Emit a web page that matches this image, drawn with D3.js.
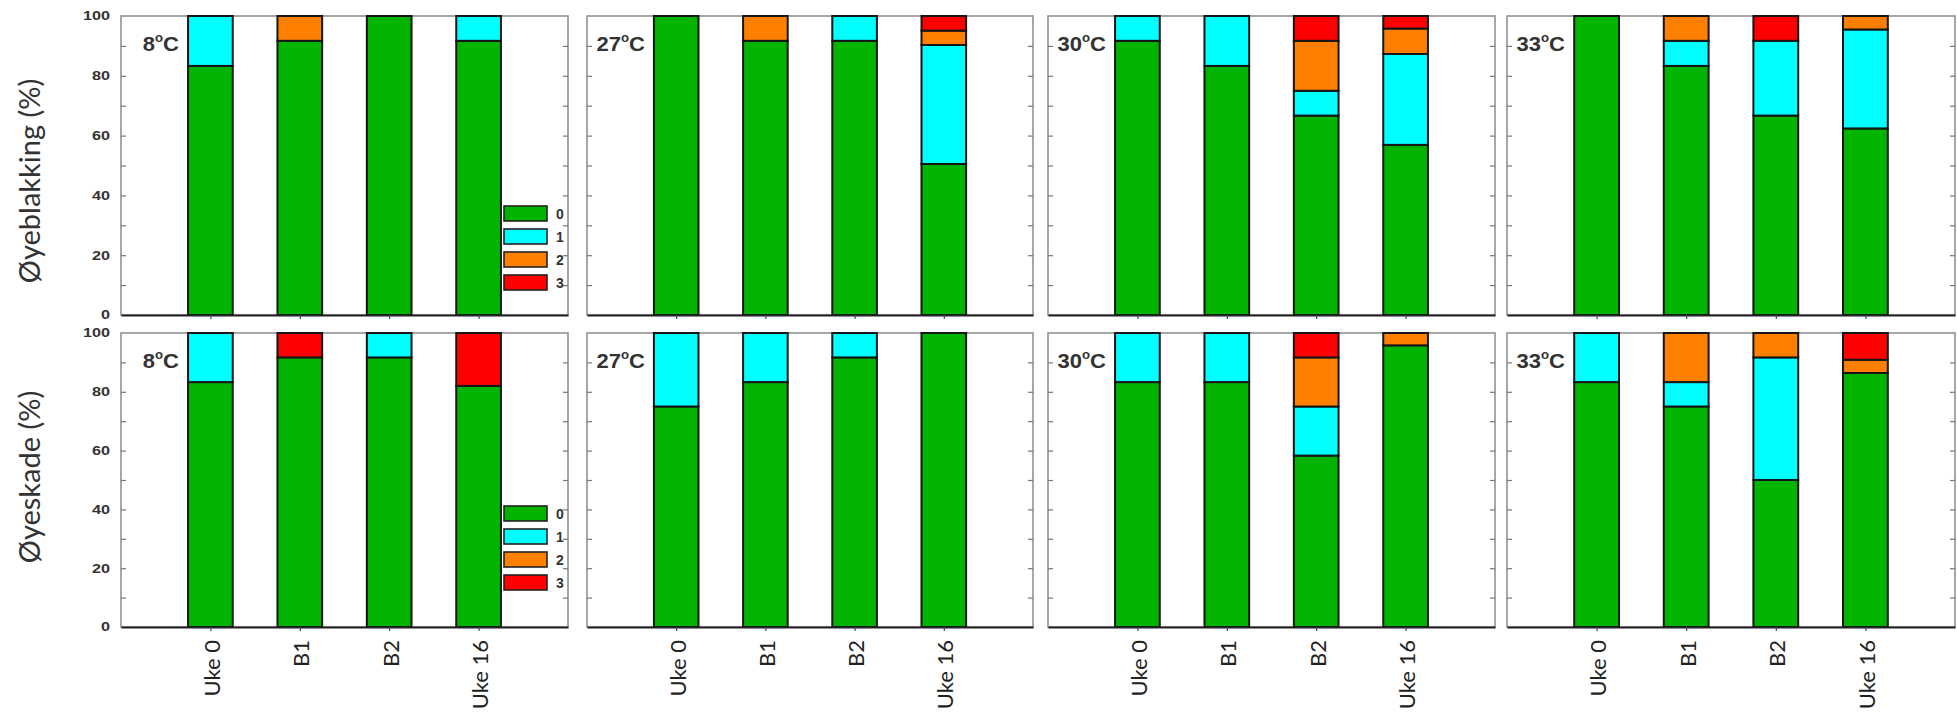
<!DOCTYPE html>
<html>
<head>
<meta charset="utf-8">
<script src="https://cdn.jsdelivr.net/npm/d3@7"></script>
<style>
  html, body { margin: 0; padding: 0; background: #fff; }
  svg { display: block; }
</style>
</head>
<body>
<svg id="chart" width="1957" height="714"></svg>
<script>
// ---------- DATA ----------
const temperatures = ["8", "27", "30", "33"];
const timepoints = ["Uke 0", "B1", "B2", "Uke 16"];
const scores = ["0", "1", "2", "3"];
const yTickValues = [0, 20, 40, 60, 80, 100];
const rowTitles = ["Øyeblakking (%)", "Øyeskade (%)"];

// Øyeblakking: per timepoint [score0, score1, score2, score3] (%)
const blakk8  = [[83.3, 16.7, 0, 0], [91.7, 0, 8.3, 0], [100, 0, 0, 0], [91.7, 8.3, 0, 0]];
const blakk27 = [[100, 0, 0, 0], [91.7, 0, 8.3, 0], [91.7, 8.3, 0, 0], [50.5, 39.8, 4.8, 4.9]];
const blakk30 = [[91.7, 8.3, 0, 0], [83.3, 16.7, 0, 0], [66.7, 8.3, 16.7, 8.3], [56.9, 30.4, 8.5, 4.2]];
const blakk33 = [[100, 0, 0, 0], [83.3, 8.4, 8.3, 0], [66.7, 25, 0, 8.3], [62.4, 33.1, 4.5, 0]];

// Øyeskade: per timepoint [score0, score1, score2, score3] (%)
const skade8  = [[83.3, 16.7, 0, 0], [91.7, 0, 0, 8.3], [91.7, 8.3, 0, 0], [82, 0, 0, 18]];
const skade27 = [[75, 25, 0, 0], [83.3, 16.7, 0, 0], [91.7, 8.3, 0, 0], [100, 0, 0, 0]];
const skade30 = [[83.3, 16.7, 0, 0], [83.3, 16.7, 0, 0], [58.3, 16.7, 16.7, 8.3], [95.8, 0, 4.2, 0]];
const skade33 = [[83.3, 16.7, 0, 0], [75, 8.3, 16.7, 0], [50, 41.7, 8.3, 0], [86.4, 0, 4.5, 9.1]];

const rowData = [
  [blakk8, blakk27, blakk30, blakk33],
  [skade8, skade27, skade30, skade33]
];

// ---------- LAYOUT / STYLE ----------
const colors = d3.scaleOrdinal().domain(scores).range(["#00b400", "#00ffff", "#ff8000", "#ff0000"]);
const rowsY = [[16, 315], [333, 627]];
const panelsX = [[121, 568], [587, 1033], [1048, 1495], [1507, 1955]];
const legendTop = [206, 506];

const svg = d3.select("#chart");

rowsY.forEach(([top, bottom], r) => {
  const y = d3.scaleLinear().domain([0, 100]).range([bottom, top]);

  panelsX.forEach(([left, right], p) => {
    const x = d3.scaleLinear().domain([0, 5]).range([left, right]);
    const g = svg.append("g");
    const bw = x(0.5) - x(0);

    // frame
    g.append("rect")
      .attr("x", left).attr("y", top)
      .attr("width", right - left).attr("height", bottom - top)
      .attr("fill", "none").attr("stroke", "#8a8a8a").attr("stroke-width", 1.5);

    // inner ticks left & right
    const minor = d3.range(10, 100, 10);
    g.append("g").attr("transform", `translate(${left},0)`)
      .call(d3.axisLeft(y).tickValues(minor).tickSize(-5).tickFormat(""))
      .call(s => { s.select(".domain").remove(); s.selectAll("line").attr("stroke", "#777").attr("stroke-width", 1.2); });
    g.append("g").attr("transform", `translate(${right},0)`)
      .call(d3.axisRight(y).tickValues(minor).tickSize(-5).tickFormat(""))
      .call(s => { s.select(".domain").remove(); s.selectAll("line").attr("stroke", "#777").attr("stroke-width", 1.2); });

    // stacked bars
    const rows = rowData[r][p].map((v, i) => {
      const o = { tp: i + 1 };
      scores.forEach((k, j) => o[k] = v[j]);
      return o;
    });
    const stacked = d3.stack().keys(scores)(rows);
    stacked.forEach(layer => {
      g.selectAll(null)
        .data(layer.filter(d => d[1] - d[0] > 0))
        .join("rect")
        .attr("x", d => x(d.data.tp) - bw / 2)
        .attr("width", bw)
        .attr("y", d => y(Math.min(100, d[1])))
        .attr("height", d => y(d[0]) - y(Math.min(100, d[1])))
        .attr("fill", colors(layer.key))
        .attr("stroke", "#151515")
        .attr("stroke-width", 2);
    });

    // bottom axis
    g.append("g").attr("transform", `translate(0,${bottom})`)
      .call(d3.axisBottom(x).tickValues([1, 2, 3, 4]).tickSize(4).tickSizeOuter(0).tickFormat(""))
      .call(s => {
        s.select(".domain").attr("stroke", "#222").attr("stroke-width", 2.2);
        s.selectAll("line").attr("stroke", "#444").attr("stroke-width", 1.2);
      });

    // temperature label
    const t = g.append("text")
      .attr("transform", `translate(${left + 58},${top + 35}) scale(1.1,1)`)
      .attr("text-anchor", "end")
      .attr("font-family", "Liberation Sans, Arial, sans-serif")
      .attr("font-weight", "bold").attr("font-size", 20)
      .attr("fill", "#333");
    t.append("tspan").text(temperatures[p]);
    t.append("tspan").attr("font-size", 12).attr("dy", -9).text("o");
    t.append("tspan").attr("dy", 9).text("C");

    // y tick labels (first panel only)
    if (p === 0) {
      yTickValues.forEach(v => {
        g.append("text")
          .attr("transform", `translate(${left - 11},${y(v)}) scale(1.3,1)`)
          .attr("text-anchor", "end")
          .attr("dominant-baseline", "central")
          .attr("font-family", "Liberation Sans, Arial, sans-serif")
          .attr("font-weight", "bold").attr("font-size", 12.5)
          .attr("fill", "#333")
          .text(v);
      });

      // legend
      const lg = g.append("g");
      scores.forEach((k, j) => {
        const yy = legendTop[r] + j * 23;
        lg.append("rect")
          .attr("x", 504).attr("y", yy).attr("width", 43).attr("height", 15)
          .attr("fill", colors(k)).attr("stroke", "#222").attr("stroke-width", 1.6);
        lg.append("text")
          .attr("x", 556).attr("y", yy + 7.5)
          .attr("dominant-baseline", "central")
          .attr("font-family", "Liberation Sans, Arial, sans-serif")
          .attr("font-weight", "bold").attr("font-size", 14)
          .attr("fill", "#333")
          .text(k);
      });

      // row title
      svg.append("text")
        .attr("transform", `translate(40,${r === 0 ? 181 : 477}) rotate(-90)`)
        .attr("text-anchor", "middle")
        .attr("font-family", "Lato, sans-serif")
        .attr("font-size", 29)
        .attr("fill", "#333")
        .text(rowTitles[r]);
    }

    // x labels (bottom row only)
    if (r === 1) {
      timepoints.forEach((tp, i) => {
        g.append("text")
          .attr("transform", `translate(${x(i + 1) + 1},640) rotate(-90)`)
          .attr("text-anchor", "end")
          .attr("dominant-baseline", "central")
          .attr("font-family", "Lato, sans-serif")
          .attr("font-size", 22)
          .attr("fill", "#222")
          .text(tp);
      });
    }
  });
});
</script>
</body>
</html>
